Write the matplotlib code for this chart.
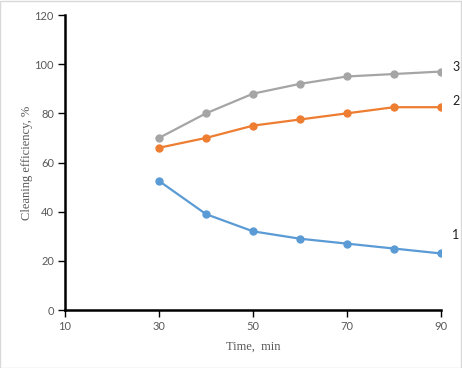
import matplotlib.pyplot as plt
from matplotlib.patches import Rectangle

time_min = [30, 40, 50, 60, 70, 80, 90]
series1 = [52.5, 39, 32, 29, 27, 25, 23]
series2 = [66, 70, 75, 77.5, 80, 82.5, 82.5]
series3 = [70, 80, 88, 92, 95, 96, 97]
curve_labels = ["1", "2", "3"]

plt.rcParams['font.family'] = ['Liberation Serif', 'DejaVu Serif']

fig = plt.figure(figsize=(4.62, 3.68), dpi=100)
ax = fig.add_axes([0.1407, 0.1576, 0.8138, 0.8016])

colors = ['#5B9BD5', '#ED7D31', '#A5A5A5']
label_offsets = [7.5, 2.5, 2]
for ys, c, lab, off in zip([series1, series2, series3], colors, curve_labels, label_offsets):
    ax.plot(time_min, ys, color=c, lw=1.6, marker='o', markersize=5, zorder=3)
    ax.text(93.2, ys[-1] + off, lab, fontsize=9, color='#202020',
            family=['Lato', 'DejaVu Sans'], ha='center', va='center',
            clip_on=False)

ax.set_xlim(10, 90)
ax.set_ylim(0, 120)
ax.set_xticks([10, 30, 50, 70, 90])
ax.set_yticks(range(0, 121, 20))

for s in ['top', 'right']:
    ax.spines[s].set_visible(False)
for s in ['left', 'bottom']:
    ax.spines[s].set_linewidth(1.8)
    ax.spines[s].set_color('black')

ax.tick_params(direction='out', length=5, width=1, colors='black',
               labelcolor='#595959', labelsize=8, pad=3)
for t in ax.get_xticklabels() + ax.get_yticklabels():
    t.set_family(['Lato', 'DejaVu Sans'])

ax.set_ylabel('Cleaning efficiency, %', color='#595959', fontsize=9)
ax.set_xlabel('Time,  min', color='#595959', fontsize=9)
ax.yaxis.set_label_coords(-0.085, 0.5)
ax.xaxis.set_label_coords(0.5, -0.105)

fig.patches.append(Rectangle((0.001, 0.001), 0.997, 0.997, transform=fig.transFigure,
                             fill=False, edgecolor='#D9D9D9', lw=1))

fig.savefig('out.png', dpi=100)
